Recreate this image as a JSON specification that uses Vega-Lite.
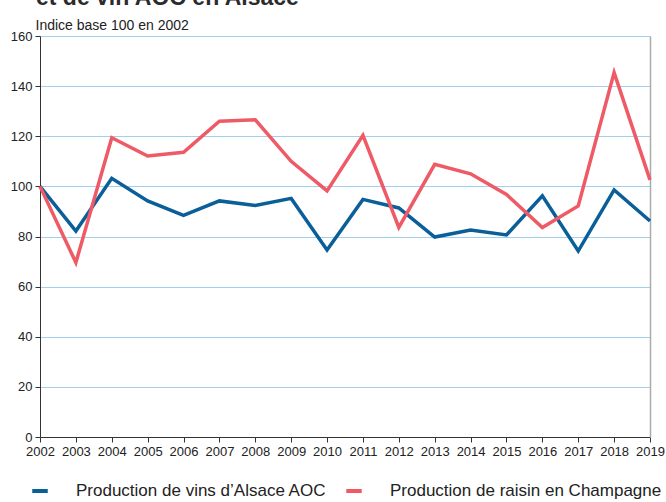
{
  "$schema": "https://vega.github.io/schema/vega-lite/v6.json",
  "width": 610,
  "height": 401,
  "autosize": {"type": "none"},
  "padding": {"left": 40, "top": 36, "right": 16, "bottom": 65},
  "background": "white",
  "title": {
    "text": "et de vin AOC en Alsace",
    "anchor": "start",
    "frame": "group",
    "offset": 8,
    "dx": -4,
    "fontSize": 23,
    "fontWeight": "bold",
    "font": "Liberation Sans",
    "color": "#2b2b2b"
  },
  "config": {
    "font": "Liberation Sans",
    "view": {"stroke": null},
    "axis": {
      "labelFont": "Liberation Sans",
      "labelFontSize": 13,
      "labelColor": "#222222",
      "domainColor": "#333333",
      "tickColor": "#333333",
      "tickSize": 5,
      "gridColor": "#9fd0ef",
      "gridWidth": 1
    }
  },
  "data": {
    "values": [
      {"annee": 2002, "serie": "Production de vins d’Alsace AOC", "indice": 100},
      {"annee": 2003, "serie": "Production de vins d’Alsace AOC", "indice": 82.2},
      {"annee": 2004, "serie": "Production de vins d’Alsace AOC", "indice": 103.2},
      {"annee": 2005, "serie": "Production de vins d’Alsace AOC", "indice": 94.2},
      {"annee": 2006, "serie": "Production de vins d’Alsace AOC", "indice": 88.4},
      {"annee": 2007, "serie": "Production de vins d’Alsace AOC", "indice": 94.2},
      {"annee": 2008, "serie": "Production de vins d’Alsace AOC", "indice": 92.4},
      {"annee": 2009, "serie": "Production de vins d’Alsace AOC", "indice": 95.2},
      {"annee": 2010, "serie": "Production de vins d’Alsace AOC", "indice": 74.6},
      {"annee": 2011, "serie": "Production de vins d’Alsace AOC", "indice": 94.8},
      {"annee": 2012, "serie": "Production de vins d’Alsace AOC", "indice": 91.4},
      {"annee": 2013, "serie": "Production de vins d’Alsace AOC", "indice": 79.8},
      {"annee": 2014, "serie": "Production de vins d’Alsace AOC", "indice": 82.6},
      {"annee": 2015, "serie": "Production de vins d’Alsace AOC", "indice": 80.6},
      {"annee": 2016, "serie": "Production de vins d’Alsace AOC", "indice": 96.2},
      {"annee": 2017, "serie": "Production de vins d’Alsace AOC", "indice": 74.2},
      {"annee": 2018, "serie": "Production de vins d’Alsace AOC", "indice": 98.6},
      {"annee": 2019, "serie": "Production de vins d’Alsace AOC", "indice": 86.2},
      {"annee": 2002, "serie": "Production de raisin en Champagne", "indice": 100},
      {"annee": 2003, "serie": "Production de raisin en Champagne", "indice": 69.6},
      {"annee": 2004, "serie": "Production de raisin en Champagne", "indice": 119.4},
      {"annee": 2005, "serie": "Production de raisin en Champagne", "indice": 112.1},
      {"annee": 2006, "serie": "Production de raisin en Champagne", "indice": 113.6},
      {"annee": 2007, "serie": "Production de raisin en Champagne", "indice": 126.0},
      {"annee": 2008, "serie": "Production de raisin en Champagne", "indice": 126.6},
      {"annee": 2009, "serie": "Production de raisin en Champagne", "indice": 110.0},
      {"annee": 2010, "serie": "Production de raisin en Champagne", "indice": 98.2},
      {"annee": 2011, "serie": "Production de raisin en Champagne", "indice": 120.4},
      {"annee": 2012, "serie": "Production de raisin en Champagne", "indice": 83.6},
      {"annee": 2013, "serie": "Production de raisin en Champagne", "indice": 108.8},
      {"annee": 2014, "serie": "Production de raisin en Champagne", "indice": 105.0},
      {"annee": 2015, "serie": "Production de raisin en Champagne", "indice": 96.8},
      {"annee": 2016, "serie": "Production de raisin en Champagne", "indice": 83.6},
      {"annee": 2017, "serie": "Production de raisin en Champagne", "indice": 92.2},
      {"annee": 2018, "serie": "Production de raisin en Champagne", "indice": 145.4},
      {"annee": 2019, "serie": "Production de raisin en Champagne", "indice": 102.6}
    ]
  },
  "encoding": {
    "x": {
      "field": "annee",
      "type": "quantitative",
      "scale": {"domain": [2002, 2019], "nice": false, "zero": false},
      "axis": {
        "values": [2002, 2003, 2004, 2005, 2006, 2007, 2008, 2009, 2010, 2011, 2012, 2013, 2014, 2015, 2016, 2017, 2018, 2019],
        "format": "d",
        "title": null,
        "grid": false,
        "labelPadding": 3,
        "labelFlush": false,
        "labelOverlap": false,
        "labelBound": false
      }
    }
  },
  "layer": [
    {
      "mark": {"type": "line", "strokeWidth": 3.5, "strokeJoin": "miter"},
      "encoding": {
        "y": {
          "field": "indice",
          "type": "quantitative",
          "scale": {"domain": [0, 160], "nice": false},
          "axis": {
            "values": [0, 20, 40, 60, 80, 100, 120, 140, 160],
            "title": "Indice base 100 en 2002",
            "titleAngle": 0,
            "titleAlign": "left",
            "titleBaseline": "bottom",
            "titleX": -5,
            "titleY": -4,
            "titleFontSize": 14,
            "titleFontWeight": "normal",
            "titleColor": "#222222",
            "titleFont": "Liberation Sans",
            "labelPadding": 3,
            "labelFlush": false,
            "grid": true
          }
        },
        "color": {
          "field": "serie",
          "type": "nominal",
          "scale": {
            "domain": ["Production de vins d’Alsace AOC", "Production de raisin en Champagne"],
            "range": ["#0a5f98", "#ee5a65"]
          },
          "legend": {
            "title": null,
            "orient": "none",
            "direction": "horizontal",
            "legendX": -10,
            "legendY": 445,
            "symbolType": "stroke",
            "symbolSize": 240,
            "symbolStrokeWidth": 4,
            "labelFontSize": 17,
            "labelColor": "#222222",
            "labelFont": "Liberation Sans",
            "labelOffset": 26,
            "labelLimit": 500,
            "columnPadding": 11
          }
        }
      }
    },
    {
      "mark": {"type": "line", "opacity": 0},
      "encoding": {
        "y": {
          "field": "indice",
          "type": "quantitative",
          "axis": {"orient": "right", "labels": false, "ticks": false, "grid": false, "title": null, "domainColor": "#aaaaaa", "domainWidth": 1.5}
        }
      }
    }
  ],
  "resolve": {"axis": {"y": "independent"}}
}
